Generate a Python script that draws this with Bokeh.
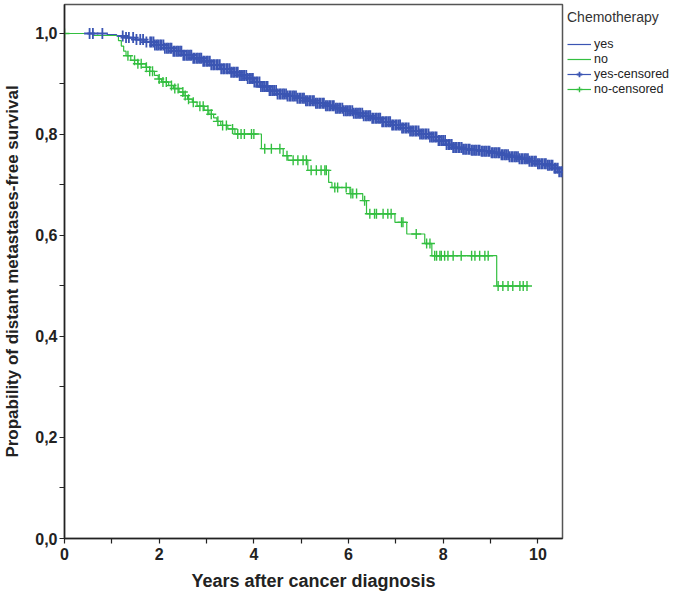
from bisect import bisect_right
from bokeh.plotting import figure
from bokeh.models import (FixedTicker, CustomJSTickFormatter, Legend, LegendItem,
                          Range1d)
from bokeh.embed import file_html
from bokeh.resources import INLINE

# ---------------- data ----------------
x_ticks = [0, 1, 2, 3, 4, 5, 6, 7, 8, 9, 10]
y_ticks = [0.0, 0.1, 0.2, 0.3, 0.4, 0.5, 0.6, 0.7, 0.8, 0.9, 1.0]

# Kaplan-Meier step points: chemotherapy = yes
yes_t = [0, 0.9, 1.1, 1.3, 1.5, 1.7, 1.9, 2.1, 2.3, 2.5, 2.7, 2.9, 3.1, 3.3, 3.5,
         3.7, 3.85, 4.0, 4.15, 4.3, 4.5, 4.7, 4.9, 5.1, 5.3, 5.5, 5.7, 5.9, 6.1,
         6.3, 6.5, 6.7, 6.9, 7.1, 7.3, 7.5, 7.7, 7.9, 8.05, 8.2, 8.4, 8.6, 8.8,
         9.0, 9.2, 9.4, 9.6, 9.8, 10.0, 10.2, 10.35, 10.45, 10.6]
yes_s = [1.0, 0.998, 0.995, 0.992, 0.988, 0.983, 0.977, 0.971, 0.965, 0.957,
         0.951, 0.945, 0.938, 0.930, 0.923, 0.917, 0.911, 0.904, 0.895, 0.887,
         0.880, 0.876, 0.872, 0.867, 0.862, 0.857, 0.852, 0.847, 0.842, 0.837,
         0.832, 0.825, 0.819, 0.813, 0.807, 0.801, 0.795, 0.788, 0.780, 0.774,
         0.771, 0.769, 0.767, 0.764, 0.760, 0.756, 0.752, 0.747, 0.742, 0.739,
         0.733, 0.726, 0.726]

# Kaplan-Meier step points: chemotherapy = no
no_t = [0, 0.6, 1.14, 1.2, 1.25, 1.3, 1.4, 1.55, 1.72, 1.8, 1.9, 1.98, 2.05, 2.2,
        2.3, 2.42, 2.52, 2.6, 2.7, 2.8, 2.95, 3.05, 3.15, 3.22, 3.3, 3.45, 3.6,
        4.16, 4.62, 4.72, 5.14, 5.58, 5.65, 6.03, 6.3, 6.38, 6.98, 7.23, 7.61,
        7.76, 9.13, 9.77]
no_s = [1.0, 0.996, 0.986, 0.975, 0.965, 0.956, 0.947, 0.940, 0.933, 0.925,
        0.917, 0.910, 0.904, 0.897, 0.891, 0.884, 0.877, 0.870, 0.864, 0.856,
        0.848, 0.840, 0.833, 0.826, 0.818, 0.811, 0.801, 0.772, 0.758, 0.749,
        0.729, 0.705, 0.695, 0.683, 0.669, 0.643, 0.626, 0.603, 0.584, 0.560,
        0.500, 0.500]

# censoring times
yes_cens = [0.53, 0.6, 0.8, 1.23, 1.3, 1.36, 1.45, 1.52, 1.6, 1.66, 1.73,
            1.81, 1.84, 1.88, 1.91, 1.95, 1.98, 2.02, 2.05, 2.09, 2.12, 2.16,
            2.19, 2.23, 2.26, 2.30, 2.33, 2.37, 2.40, 2.44, 2.47, 2.51, 2.54,
            2.58, 2.61, 2.65, 2.68, 2.72, 2.75, 2.79, 2.82, 2.86, 2.89, 2.93,
            2.96, 3.00, 3.03, 3.07, 3.10, 3.14, 3.17, 3.21, 3.24, 3.28, 3.31,
            3.35, 3.38, 3.42, 3.45, 3.49, 3.52, 3.56, 3.59, 3.63, 3.66, 3.70,
            3.73, 3.77, 3.80, 3.84, 3.87, 3.91, 3.94, 3.98, 4.01, 4.05, 4.08,
            4.12, 4.15, 4.19, 4.22, 4.26, 4.29, 4.33, 4.36, 4.40, 4.43, 4.47,
            4.50, 4.54, 4.57, 4.61, 4.64, 4.68, 4.71, 4.75, 4.78, 4.82, 4.85,
            4.89, 4.92, 4.96, 4.99, 5.03, 5.06, 5.10, 5.13, 5.17, 5.20, 5.24,
            5.27, 5.31, 5.34, 5.38, 5.41, 5.45, 5.48, 5.52, 5.55, 5.59, 5.62,
            5.66, 5.69, 5.73, 5.76, 5.80, 5.83, 5.87, 5.90, 5.94, 5.97, 6.01,
            6.04, 6.08, 6.11, 6.15, 6.18, 6.22, 6.25, 6.29, 6.32, 6.36, 6.39,
            6.43, 6.46, 6.50, 6.53, 6.57, 6.60, 6.64, 6.67, 6.71, 6.74, 6.78,
            6.81, 6.85, 6.88, 6.92, 6.95, 6.99, 7.02, 7.06, 7.09, 7.13, 7.16,
            7.20, 7.23, 7.27, 7.30, 7.34, 7.37, 7.41, 7.44, 7.48, 7.51, 7.55,
            7.58, 7.62, 7.65, 7.69, 7.72, 7.76, 7.79, 7.83, 7.86, 7.90, 7.93,
            7.97, 8.00, 8.04, 8.07, 8.11, 8.14, 8.18, 8.21, 8.25, 8.28, 8.32,
            8.35, 8.39, 8.42, 8.46, 8.49, 8.53, 8.56, 8.60, 8.63, 8.67, 8.70,
            8.74, 8.77, 8.81, 8.84, 8.88, 8.91, 8.95, 8.98, 9.02, 9.05, 9.09,
            9.12, 9.16, 9.19, 9.23, 9.26, 9.30, 9.33, 9.37, 9.40, 9.44, 9.47,
            9.51, 9.54, 9.58, 9.61, 9.65, 9.68, 9.72, 9.75, 9.79, 9.82, 9.86,
            9.89, 9.93, 9.96, 10.00, 10.03, 10.07, 10.10, 10.14, 10.17, 10.21,
            10.24, 10.28, 10.31, 10.35, 10.38, 10.42, 10.45, 10.49, 10.52]
no_cens = [0.0, 1.34, 1.48, 1.55, 1.62, 1.73, 1.80, 1.86, 2.0, 2.08, 2.15, 2.26,
           2.33, 2.40, 2.5, 2.55, 2.62, 2.72, 2.86, 2.93, 3.03, 3.10, 3.24, 3.34,
           3.42, 3.55, 3.66, 3.73, 3.80, 3.95, 4.0, 4.23, 4.37, 4.55, 4.70, 4.83,
           4.93, 5.04, 5.11, 5.21, 5.32, 5.42, 5.50, 5.53, 5.71, 5.77, 5.95, 6.05,
           6.09, 6.17, 6.34, 6.45, 6.55, 6.59, 6.73, 6.83, 6.90, 7.12, 7.15, 7.43,
           7.65, 7.72, 7.82, 7.86, 7.93, 7.96, 8.03, 8.10, 8.21, 8.38, 8.60, 8.67,
           8.77, 8.88, 8.95, 9.16, 9.26, 9.37, 9.47, 9.62, 9.69, 9.77]

group_labels = ["yes", "no", "yes-censored", "no-censored"]
legend_title = "Chemotherapy"
x_title = "Years after cancer diagnosis"
y_title = "Propability of distant metastases-free survival"

BLUE = "#3b55b3"
GREEN = "#33bf40"
FONT = "Liberation Sans"


def surv_at(ts, ss, t):
    i = bisect_right(ts, t) - 1
    return ss[max(i, 0)]


yes_cens_s = [surv_at(yes_t, yes_s, t) for t in yes_cens]
no_cens_s = [surv_at(no_t, no_s, t) for t in no_cens]

# ---------------- figure ----------------
p = figure(frame_width=498, frame_height=534,
           x_range=Range1d(0, 10.52), y_range=Range1d(0, 1.0574),
           output_backend="svg", toolbar_location=None,
           min_border_left=0, min_border_top=4, min_border_right=0,
           min_border_bottom=0, background_fill_color="white",
           border_fill_color="white")
p.xgrid.visible = False
p.ygrid.visible = False
p.outline_line_color = "#555555"
p.outline_line_width = 1.5

yes_line = p.step(x=yes_t, y=yes_s, mode="after", line_color=BLUE, line_width=1.2)
no_line = p.step(x=no_t, y=no_s, mode="after", line_color=GREEN, line_width=1.2)
yes_pts = p.scatter(x=yes_cens, y=yes_cens_s, marker="cross", size=11,
                    line_color=BLUE, line_width=1.8)
no_pts = p.scatter(x=no_cens, y=no_cens_s, marker="cross", size=10,
                   line_color=GREEN, line_width=1.4)

for ax in (p.xaxis[0], p.yaxis[0]):
    ax.axis_line_color = "#222222"
    ax.axis_line_width = 1.5
    ax.major_tick_line_color = "#222222"
    ax.major_tick_line_width = 1.2
    ax.major_tick_out = 5
    ax.major_tick_in = 0
    ax.minor_tick_line_color = None
    ax.major_label_text_font = FONT
    ax.major_label_text_font_style = "bold"
    ax.major_label_text_font_size = "16px"
    ax.major_label_text_color = "#222222"
    ax.axis_label_text_font = FONT
    ax.axis_label_text_font_style = "bold"
    ax.axis_label_text_color = "#222222"

p.xaxis.axis_label_text_font_size = "18px"
p.yaxis.axis_label_text_font_size = "17px"
p.xaxis.ticker = FixedTicker(ticks=x_ticks)
p.yaxis.ticker = FixedTicker(ticks=y_ticks)
p.xaxis.formatter = CustomJSTickFormatter(
    code="const v = Math.round(tick); return (v % 2 === 0) ? v.toString() : '';")
p.yaxis.formatter = CustomJSTickFormatter(
    code="const v = Math.round(tick*10); return (v % 2 === 0) ? (v/10).toFixed(1).replace('.', ',') : '';")
p.xaxis.axis_label = x_title
p.yaxis.axis_label = y_title
p.xaxis.major_label_standoff = 4
p.yaxis.major_label_standoff = 2
p.xaxis.axis_label_standoff = 8
p.yaxis.axis_label_standoff = 10

legend = Legend(items=[
    LegendItem(label=group_labels[0], renderers=[yes_line]),
    LegendItem(label=group_labels[1], renderers=[no_line]),
    LegendItem(label=group_labels[2], renderers=[yes_line, yes_pts]),
    LegendItem(label=group_labels[3], renderers=[no_line, no_pts]),
], location="top_left")
legend.title = legend_title
legend.title_text_font = FONT
legend.title_text_font_size = "14px"
legend.title_text_font_style = "normal"
legend.title_text_color = "#333333"
legend.title_standoff = 12
legend.label_text_font = FONT
legend.label_text_font_size = "12.5px"
legend.label_text_color = "#222222"
legend.label_height = 14
legend.glyph_height = 14
legend.glyph_width = 24
legend.label_standoff = 3
legend.spacing = 1
legend.padding = 2
legend.margin = 5
legend.border_line_color = None
legend.background_fill_alpha = 0
p.add_layout(legend, "right")

open("out.html", "w").write(file_html(p, INLINE))
